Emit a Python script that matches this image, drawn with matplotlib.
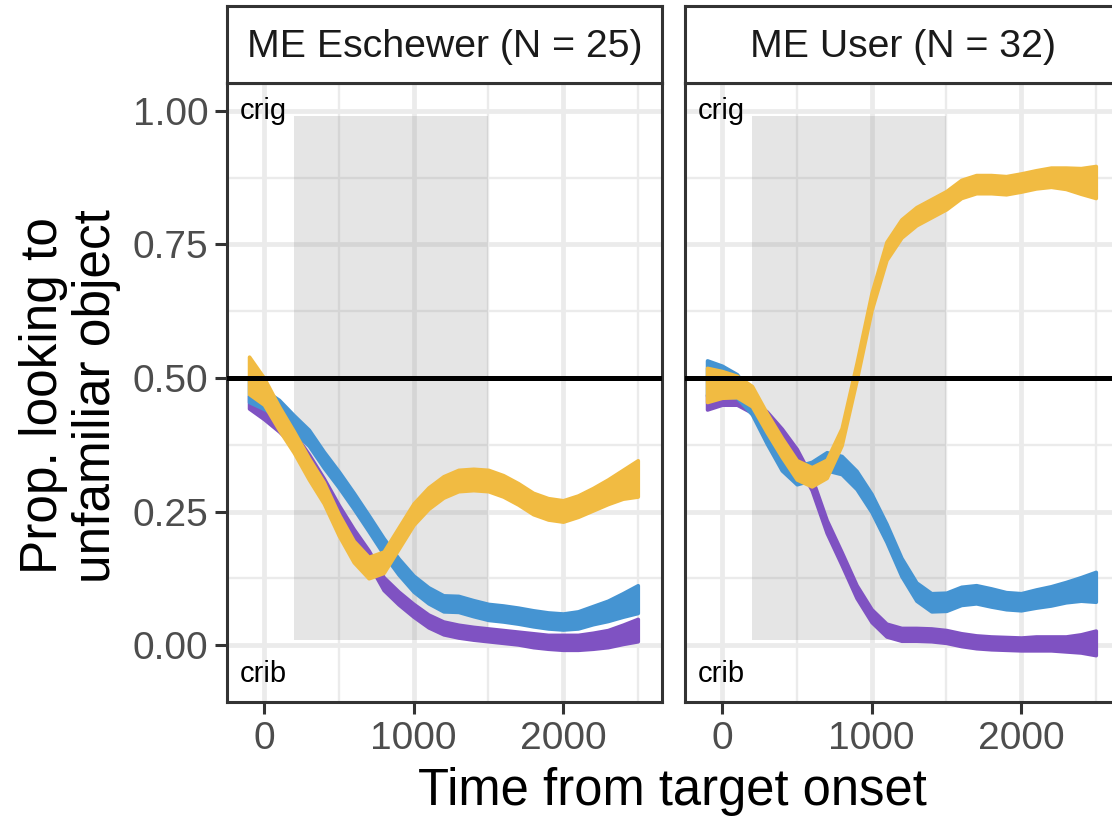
import matplotlib.pyplot as plt
from matplotlib.ticker import MultipleLocator

plt.rcParams['font.family'] = ['Liberation Sans', 'DejaVu Sans']

# time bins (ms from target onset)
time_ms = [-100, 0, 100, 200, 300, 400, 500, 600, 700, 800, 900, 1000, 1100, 1200,
           1300, 1400, 1500, 1600, 1700, 1800, 1900, 2000, 2100, 2200, 2300, 2400, 2500]

panel_titles = ['ME Eschewer (N = 25)', 'ME User (N = 32)']

# ME Eschewer: mean proportion and half-width of the error band
esch_purple_mean = [0.455, 0.435, 0.412, 0.385, 0.345, 0.300, 0.250, 0.205, 0.165, 0.115, 0.088, 0.065, 0.045, 0.032,
                    0.026, 0.022, 0.019, 0.016, 0.013, 0.009, 0.006, 0.005, 0.005, 0.008, 0.012, 0.020, 0.028]
esch_purple_se = [0.012, 0.012, 0.012, 0.012, 0.012, 0.012, 0.012, 0.012, 0.012, 0.012, 0.012, 0.012, 0.012, 0.012,
                  0.012, 0.012, 0.012, 0.012, 0.012, 0.013, 0.013, 0.014, 0.014, 0.015, 0.016, 0.018, 0.021]
esch_blue_mean = [0.475, 0.460, 0.443, 0.415, 0.388, 0.347, 0.310, 0.270, 0.228, 0.185, 0.147, 0.115, 0.093, 0.078,
                  0.077, 0.069, 0.062, 0.059, 0.055, 0.050, 0.046, 0.044, 0.047, 0.056, 0.064, 0.075, 0.086]
esch_blue_se = [0.020, 0.018, 0.016, 0.015, 0.015, 0.015, 0.015, 0.015, 0.015, 0.015, 0.015, 0.015, 0.015, 0.015,
                0.015, 0.015, 0.015, 0.015, 0.015, 0.015, 0.015, 0.015, 0.016, 0.017, 0.019, 0.022, 0.026]
esch_yellow_mean = [0.505, 0.475, 0.425, 0.380, 0.330, 0.285, 0.225, 0.175, 0.145, 0.155, 0.200, 0.245, 0.275, 0.296,
                    0.308, 0.310, 0.308, 0.298, 0.283, 0.265, 0.255, 0.251, 0.260, 0.273, 0.287, 0.301, 0.312]
esch_yellow_se = [0.035, 0.025, 0.022, 0.020, 0.020, 0.020, 0.020, 0.020, 0.020, 0.020, 0.020, 0.020, 0.020, 0.020,
                  0.020, 0.020, 0.020, 0.020, 0.020, 0.020, 0.020, 0.020, 0.020, 0.021, 0.023, 0.027, 0.034]

# ME User
user_purple_mean = [0.455, 0.463, 0.462, 0.447, 0.425, 0.393, 0.355, 0.302, 0.222, 0.162, 0.100, 0.055, 0.028, 0.020,
                    0.020, 0.019, 0.016, 0.010, 0.006, 0.004, 0.003, 0.002, 0.003, 0.003, 0.002, 0.003, 0.004]
user_purple_se = [0.014, 0.013, 0.012, 0.012, 0.012, 0.012, 0.012, 0.012, 0.012, 0.012, 0.012, 0.012, 0.012, 0.012,
                  0.012, 0.012, 0.012, 0.012, 0.012, 0.012, 0.012, 0.012, 0.013, 0.013, 0.014, 0.017, 0.023]
user_blue_mean = [0.500, 0.495, 0.485, 0.450, 0.394, 0.344, 0.318, 0.326, 0.344, 0.337, 0.309, 0.266, 0.210, 0.146,
                  0.100, 0.080, 0.081, 0.092, 0.095, 0.089, 0.083, 0.081, 0.087, 0.092, 0.099, 0.105, 0.109]
user_blue_se = [0.033, 0.028, 0.022, 0.018, 0.017, 0.017, 0.017, 0.017, 0.017, 0.017, 0.017, 0.017, 0.017, 0.017,
                0.017, 0.017, 0.017, 0.017, 0.017, 0.017, 0.016, 0.016, 0.017, 0.018, 0.019, 0.022, 0.028]
user_yellow_mean = [0.487, 0.488, 0.484, 0.466, 0.416, 0.370, 0.328, 0.315, 0.330, 0.390, 0.512, 0.643, 0.738, 0.780,
                    0.803, 0.818, 0.833, 0.854, 0.863, 0.863, 0.861, 0.866, 0.872, 0.876, 0.874, 0.869, 0.867]
user_yellow_se = [0.032, 0.025, 0.020, 0.019, 0.018, 0.018, 0.018, 0.018, 0.017, 0.016, 0.016, 0.016, 0.017, 0.017,
                  0.017, 0.017, 0.017, 0.017, 0.017, 0.017, 0.017, 0.017, 0.017, 0.018, 0.020, 0.024, 0.030]

# shaded analysis window and chance line
window_start, window_end = 200, 1500
window_low, window_high = 0.01, 0.99
chance = 0.5

series_colors = ['#7F52C2', '#4594D2', '#F1BB42']
panels = [
    [(esch_purple_mean, esch_purple_se), (esch_blue_mean, esch_blue_se), (esch_yellow_mean, esch_yellow_se)],
    [(user_purple_mean, user_purple_se), (user_blue_mean, user_blue_se), (user_yellow_mean, user_yellow_se)],
]

W, H = 1112, 817
def px_box(x0, y0, x1, y1):
    return [x0 / W, 1 - y1 / H, (x1 - x0) / W, (y1 - y0) / H]

fig = plt.figure(figsize=(W / 100, H / 100), dpi=100)
edge = '#333333'
panel_left = [227, 685]

for i, series in enumerate(panels):
    x0 = panel_left[i]
    ax = fig.add_axes(px_box(x0, 83, x0 + 435, 702))
    ax.set_xlim(-247.5, 2662)
    ax.set_ylim(-0.1067, 1.0524)

    ax.xaxis.set_major_locator(MultipleLocator(1000))
    ax.xaxis.set_minor_locator(MultipleLocator(500))
    ax.yaxis.set_major_locator(MultipleLocator(0.25))
    ax.yaxis.set_minor_locator(MultipleLocator(0.125))
    ax.grid(which='major', color='#EBEBEB', lw=3.4)
    ax.grid(which='minor', color='#EBEBEB', lw=1.7)
    ax.set_axisbelow(True)
    ax.tick_params(which='minor', length=0)
    ax.tick_params(which='major', length=8.5, width=2.2, color=edge,
                   labelsize=28, labelcolor='#4D4D4D', pad=5)
    ax.yaxis.set_major_formatter(lambda v, p: f'{v:.2f}')
    if i > 0:
        ax.tick_params(axis='y', labelleft=False, length=0)

    ax.fill_between([window_start, window_end], window_low, window_high,
                    color='grey', alpha=0.2, lw=0, zorder=1)

    for (mean, se), col in zip(series, series_colors):
        lo = [m - s for m, s in zip(mean, se)]
        hi = [m + s for m, s in zip(mean, se)]
        ax.fill_between(time_ms, lo, hi, facecolor=col, edgecolor=col, lw=2.6, zorder=3)

    ax.axhline(chance, color='black', lw=3.6, zorder=4)
    ax.text(-165, 1.0, 'crig', fontsize=21, va='center', ha='left', zorder=5)
    ax.text(-165, -0.054, 'crib', fontsize=21, va='center', ha='left', zorder=5)

    for s in ax.spines.values():
        s.set_color(edge)
        s.set_linewidth(2.2)

    # facet strip
    sx = fig.add_axes(px_box(x0, 6, x0 + 435, 83))
    sx.set_xticks([])
    sx.set_yticks([])
    for s in sx.spines.values():
        s.set_color(edge)
        s.set_linewidth(2.2)
    sx.text(0.5, 0.47, panel_titles[i], transform=sx.transAxes, ha='center', va='center',
            fontsize=28.3, color='#1A1A1A')

fig.text(672 / W, 1 - 792 / H, 'Time from target onset', ha='center', va='center', fontsize=36.5)
fig.text(70 / W, 1 - 396 / H, 'Prop. looking to\nunfamiliar object', ha='center', va='center',
         rotation=90, fontsize=37, linespacing=1.1)

fig.savefig('out.png', dpi=100)
